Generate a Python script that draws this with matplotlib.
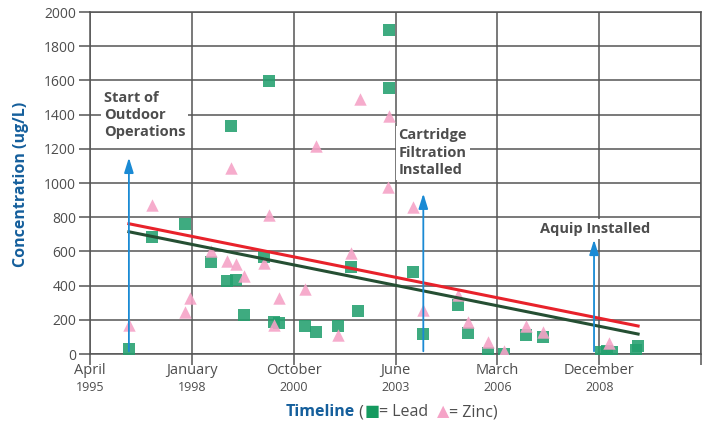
import matplotlib.pyplot as plt
from matplotlib.offsetbox import TextArea, HPacker, AnchoredOffsetbox

plt.rcParams['font.family'] = ['Open Sans', 'DejaVu Sans']

# decimal-year dates
lead_x = [1996.30, 1996.92, 1997.82, 1998.52, 1998.95, 1999.06, 1999.19, 1999.41,
          1999.95, 2000.09, 2000.22, 2000.36, 2001.06, 2001.35, 2001.95, 2002.30,
          2002.49, 2003.33, 2003.33, 2003.98, 2004.25, 2005.19, 2005.46, 2006.00,
          2006.43, 2007.03, 2007.49, 2009.05, 2009.20, 2009.35, 2010.00, 2010.05]
lead_y = [30, 686, 762, 540, 428, 1331, 434, 229,
          569, 1595, 188, 182, 164, 129, 164, 510,
          252, 1894, 1554, 481, 117, 287, 123, 5,
          0, 111, 100, 12, 15, 10, 23, 47]

zinc_x = [1996.30, 1996.92, 1997.82, 1997.95, 1998.52, 1998.95, 1999.06, 1999.19,
          1999.41, 1999.95, 2000.09, 2000.22, 2000.36, 2001.06, 2001.35, 2001.95,
          2002.30, 2002.55, 2003.30, 2003.33, 2003.98, 2004.25, 2005.19, 2005.46,
          2006.00, 2006.43, 2007.03, 2007.49, 2009.27]
zinc_y = [170, 874, 246, 328, 604, 545, 1085, 528,
          457, 534, 815, 170, 328, 381, 1214, 111,
          592, 1493, 974, 1390, 862, 258, 346, 188,
          70, 18, 164, 129, 64]

# linear trend end points
zinc_trend_x = [1996.30, 2010.05]
zinc_trend_y = [762, 164]
lead_trend_x = [1996.30, 2010.05]
lead_trend_y = [715, 117]

tick_pos = [1995.25, 1998.0, 2000.75, 2003.5, 2006.25, 2009.0]
tick_month = ['April', 'January', 'October', 'June', 'March', 'December']
tick_year = ['1995', '1998', '2000', '2003', '2006', '2008']

events = [
    (1996.30, 1165, 'Start of\nOutdoor\nOperations', 1995.62, 1540, 'top'),
    (2004.25, 955, 'Cartridge\nFiltration\nInstalled', 2003.58, 1320, 'top'),
    (2008.86, 685, 'Aquip Installed', 2007.40, 730, 'center'),
]

grid_c = '#555555'
text_c = '#4d4d4d'
blue = '#155f9c'
arrow_c = '#1a8ad4'

fig = plt.figure(figsize=(7.06, 4.23), dpi=100)
ax = fig.add_axes([0.1275, 0.163, 0.8655, 0.8086])

ax.scatter(lead_x, lead_y, marker='s', s=80, color='#23a06e', alpha=0.88,
           linewidths=0, zorder=3)
ax.scatter(zinc_x, zinc_y, marker='^', s=80, color='#f5a3c7', alpha=0.9,
           linewidths=0, zorder=4)
ax.plot(zinc_trend_x, zinc_trend_y, color='#e8222b', lw=2.2, zorder=5)
ax.plot(lead_trend_x, lead_trend_y, color='#254f33', lw=2.2, zorder=5)

for x, tip, label, tx, ty, va in events:
    ax.annotate('', xy=(x, tip), xytext=(x, 0),
                arrowprops=dict(arrowstyle='-|>,head_length=0.9,head_width=0.28',
                                color=arrow_c, lw=1.3), zorder=6)
    ax.text(tx, ty, label, ha='left', va=va, fontsize=10.5, fontweight='bold',
            color=text_c, linespacing=1.3, zorder=7,
            bbox=dict(facecolor='white', edgecolor='none', pad=2))

ax.set_xlim(1995.25, 2011.75)
ax.set_ylim(0, 2000)
ax.set_yticks(range(0, 2001, 200))
ax.set_xticks(tick_pos + [2011.75])
ax.set_xticklabels([])
ax.grid(True, color=grid_c, lw=1.1)
ax.set_axisbelow(True)
ax.tick_params(axis='both', length=8, width=1.1, color=grid_c, pad=2,
               labelcolor=text_c, labelsize=10)
for s in ax.spines.values():
    s.set_color(grid_c)
    s.set_linewidth(1.1)

for p, m, yr in zip(tick_pos, tick_month, tick_year):
    ax.text(p, -95, m, ha='center', va='center', fontsize=10.5, color=text_c)
    ax.text(p, -195, yr, ha='center', va='center', fontsize=9, color=text_c)

fig.text(0.03, 0.565, 'Concentration (ug/L)', rotation=90, ha='center',
         va='center', fontsize=11.5, fontweight='bold', color=blue)

parts = [
    TextArea('Timeline', textprops=dict(color=blue, fontsize=11.5, fontweight='bold')),
    TextArea(' (', textprops=dict(color=text_c, fontsize=11.5)),
    TextArea('\u25a0', textprops=dict(color='#159a5f', fontsize=11.5,
                                       family=['DejaVu Sans'])),
    TextArea('= Lead  ', textprops=dict(color=text_c, fontsize=11.5)),
    TextArea('\u25b2', textprops=dict(color='#f5a3c7', fontsize=11.5,
                                       family=['DejaVu Sans'])),
    TextArea('= Zinc)', textprops=dict(color=text_c, fontsize=11.5)),
]
box = HPacker(children=parts, align='baseline', pad=0, sep=0)
anch = AnchoredOffsetbox(loc='center', child=box, frameon=False,
                         bbox_to_anchor=(0.555, 0.025),
                         bbox_transform=fig.transFigure, pad=0, borderpad=0)
fig.add_artist(anch)

fig.savefig('out.png', dpi=100)
